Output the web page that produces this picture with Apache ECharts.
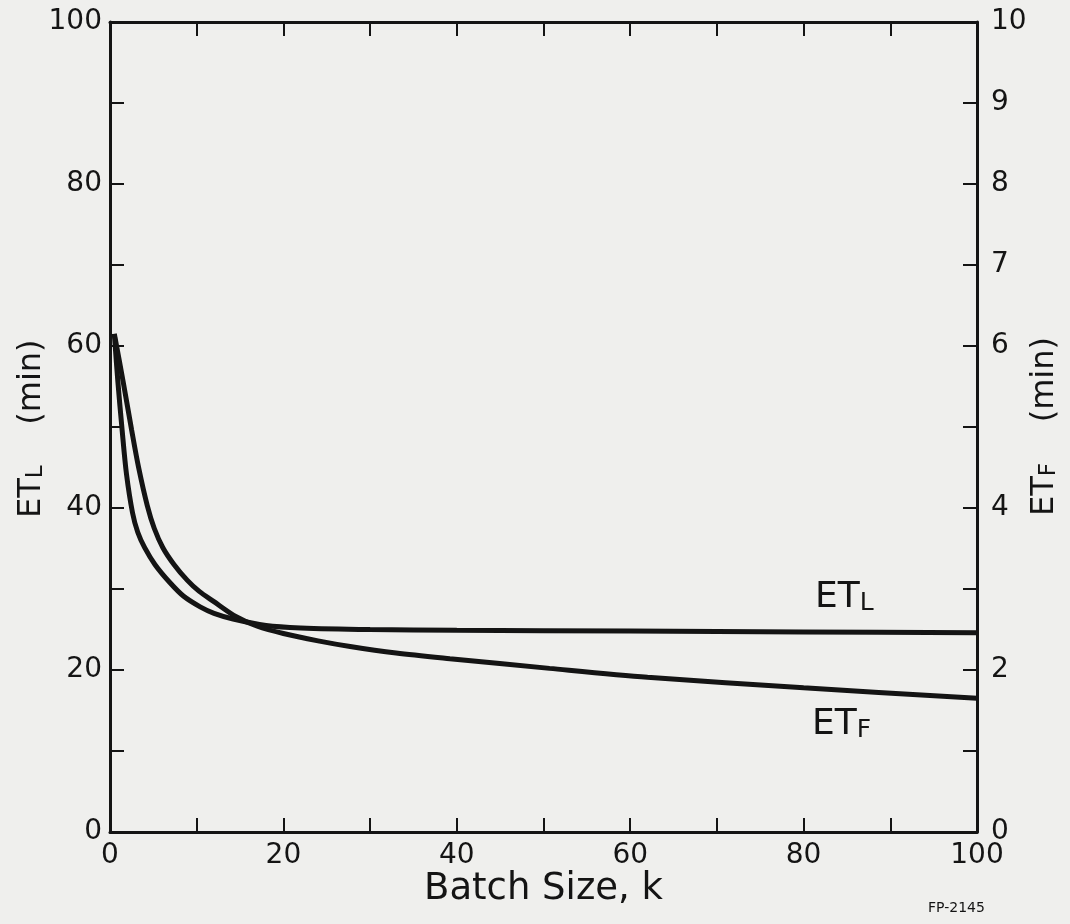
<!DOCTYPE html>
<html>
<head>
<meta charset="utf-8">
<script src="https://cdn.jsdelivr.net/npm/echarts@6/dist/echarts.min.js"></script>
<style>
html,body{margin:0;padding:0;background:#efefed;}
#c{width:1070px;height:924px;}
</style>
</head>
<body>
<div id="c"></div>
<script>
// Batch size k and ET_L (min, left axis)
const batchL = [0.5, 0.9, 1.4, 1.9, 2.6, 3.2, 4.0, 5.2, 6.9, 8.5, 10.4, 12, 14.2, 18, 22, 30, 40, 60, 80, 100];
const etL    = [61.5, 55.7, 49.6, 44.2, 39.4, 37.0, 35.1, 33.0, 30.8, 29.1, 27.8, 27.0, 26.3, 25.5, 25.2, 25.0, 24.9, 24.8, 24.7, 24.6];
// Batch size k and ET_F (min, right axis)
const batchF = [0.5, 1.5, 2.5, 3.3, 4.3, 5.1, 6.1, 7.4, 8.9, 10.3, 11.9, 14.5, 17, 20, 24, 27.7, 33, 39.2, 50.7, 62, 80, 100];
const etF    = [6.15, 5.57, 4.96, 4.50, 4.03, 3.75, 3.51, 3.30, 3.11, 2.97, 2.85, 2.66, 2.54, 2.45, 2.36, 2.29, 2.21, 2.14, 2.02, 1.91, 1.78, 1.65];
// tick labels
const xLabels = [0, 20, 40, 60, 80, 100];
const leftLabels = [0, 20, 40, 60, 80, 100];
const rightLabels = [0, 2, 4, 6, 7, 8, 9, 10];

const ink = '#141414';
const font = 'DejaVu Sans';
const chart = echarts.init(document.getElementById('c'));
const axisLine = {show: true, onZero: false, lineStyle: {color: ink, width: 3}};
const tick = {show: true, inside: true, length: 14, lineStyle: {color: ink, width: 2}};

function subText(main, sub, size, subSize, lh, subLh) {
  return {
    text: '{a|' + main + '}{s|' + sub + '}',
    fill: ink,
    rich: {
      a: {fontFamily: font, fontSize: size, lineHeight: lh, verticalAlign: 'bottom', fill: ink},
      s: {fontFamily: font, fontSize: subSize, lineHeight: subLh, verticalAlign: 'bottom', fill: ink}
    }
  };
}
function titleText(sub) {
  return {
    text: '{a|ET}{s|' + sub + '}{a|    (min)}',
    fill: ink,
    rich: {
      a: {fontFamily: font, fontSize: 32, lineHeight: 44, verticalAlign: 'bottom', fill: ink},
      s: {fontFamily: font, fontSize: 23, lineHeight: 23, verticalAlign: 'bottom', fill: ink}
    }
  };
}

chart.setOption({
  backgroundColor: '#efefed',
  animation: false,
  grid: {left: 110, right: 93, top: 22, bottom: 92},
  xAxis: [
    {type: 'value', min: 0, max: 100, interval: 10, position: 'bottom',
     axisLine: axisLine, axisTick: tick, splitLine: {show: false},
     axisLabel: {color: ink, fontFamily: font, fontSize: 28, margin: 10,
       formatter: v => xLabels.includes(v) ? String(v) : ''}},
    {type: 'value', min: 0, max: 100, interval: 10, position: 'top',
     axisLine: axisLine, axisTick: tick, splitLine: {show: false},
     axisLabel: {show: false}}
  ],
  yAxis: [
    {type: 'value', min: 0, max: 100, interval: 10, position: 'left',
     axisLine: axisLine, axisTick: tick, splitLine: {show: false},
     axisLabel: {color: ink, fontFamily: font, fontSize: 28, margin: 8,
       formatter: v => leftLabels.includes(v) ? String(v) : ''}},
    {type: 'value', min: 0, max: 10, interval: 1, position: 'right',
     axisLine: axisLine, axisTick: tick, splitLine: {show: false},
     axisLabel: {color: ink, fontFamily: font, fontSize: 28, margin: 14,
       formatter: v => rightLabels.includes(v) ? String(v) : ''}}
  ],
  series: [
    {name: 'ET_L', type: 'line', xAxisIndex: 0, yAxisIndex: 0, showSymbol: false,
     smooth: 0.3,
     lineStyle: {color: ink, width: 5},
     data: batchL.map((k, i) => [k, etL[i]])},
    {name: 'ET_F', type: 'line', xAxisIndex: 0, yAxisIndex: 1, showSymbol: false,
     smooth: 0.3,
     lineStyle: {color: ink, width: 5},
     data: batchF.map((k, i) => [k, etF[i]])}
  ],
  graphic: [
    {type: 'text', left: 424, top: 871,
     style: {text: 'Batch Size, k', font: '37px "DejaVu Sans"', fill: ink}},
    {type: 'text', left: 928, top: 901,
     style: {text: 'FP-2145', font: '14px "DejaVu Sans"', fill: ink}},
    // left axis title, reading bottom to top
    {type: 'text', x: 4, y: 518, rotation: Math.PI / 2, style: titleText('L')},
    // right axis title
    {type: 'text', x: 1017, y: 516, rotation: Math.PI / 2, style: titleText('F')},
    // in-plot labels
    {type: 'text', x: 815, y: 568, style: subText('ET', 'L', 36, 25, 48, 25)},
    {type: 'text', x: 812, y: 695, style: subText('ET', 'F', 36, 25, 48, 25)}
  ]
});
</script>
</body>
</html>
